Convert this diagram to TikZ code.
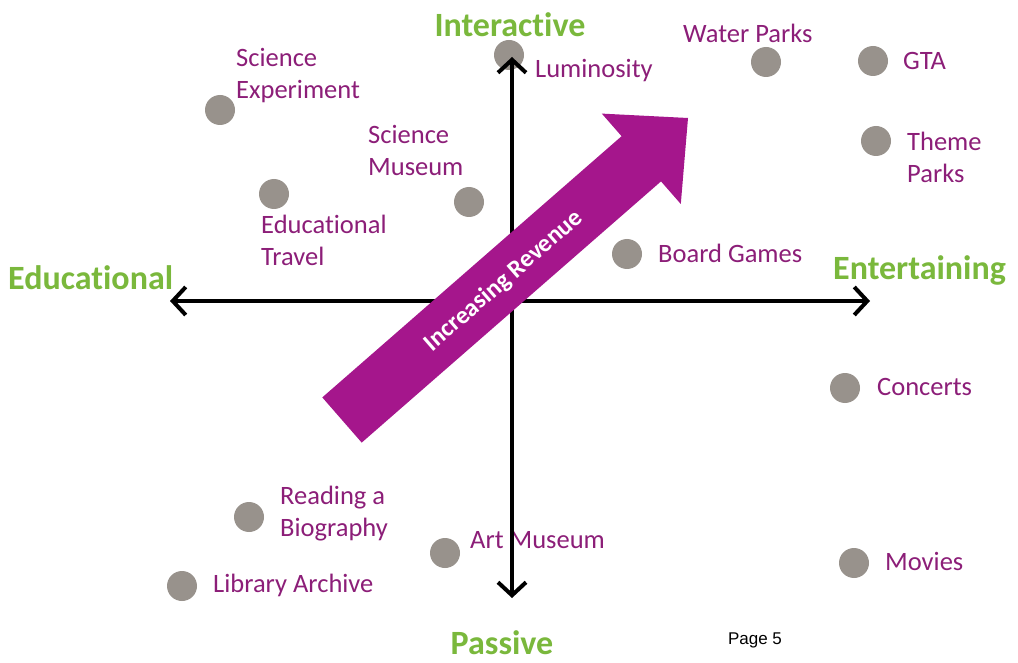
\documentclass[tikz,border=0pt]{standalone}
\usepackage{fontspec}
\setmainfont{Carlito}[Ligatures=NoCommon]
\newfontfamily\arialf{Liberation Sans}
\usetikzlibrary{arrows.meta}
\definecolor{lab}{RGB}{140,30,120}
\definecolor{grn}{RGB}{122,184,60}
\definecolor{dotc}{RGB}{152,146,140}
\definecolor{revc}{RGB}{165,22,140}
\begin{document}
\begin{tikzpicture}[x=1pt,y=-1pt,
  dot/.style={circle,fill=dotc,minimum size=30pt,inner sep=0pt},
  lbl/.style={text=lab,font=\fontsize{26.5}{32}\selectfont,align=left,inner sep=0pt,anchor=west},
  axl/.style={text=grn,font=\fontsize{34}{38}\selectfont\bfseries,inner sep=0pt},
  axisline/.style={line width=4pt,{Straight Barb[length=13pt,width=28pt]}-{Straight Barb[length=13pt,width=28pt]}},
  revarrow/.style={fill=revc,draw=none},
  revtext/.style={text=white,font=\fontsize{25}{28}\selectfont\bfseries,inner sep=0pt,rotate=41.1}]
\useasboundingbox[fill=white] (0,0) rectangle (1018,663);

% dots
\node[dot] (dlum) at (509,55) {};
\node[dot] (dwat) at (766,62) {};
\node[dot] (dgta) at (873,61) {};
\node[dot] (dthe) at (876,141) {};
\node[dot] (dsci) at (220,110) {};
\node[dot] (dsmu) at (469,202) {};
\node[dot] (dedu) at (274,194) {};
\node[dot] (dboa) at (627,254) {};
\node[dot] (dcon) at (845,388) {};
\node[dot] (drea) at (249,517) {};
\node[dot] (dart) at (445,553) {};
\node[dot] (dlib) at (182,586) {};
\node[dot] (dmov) at (854,563) {};

% labels
\node[lbl] (llum) at (535,71) {Luminosity};
\node[lbl] (lwat) at (683,33) {Water Parks};
\node[lbl] (lgta) at (903,61) {GTA};
\node[lbl] (lthe) at (907,157) {Theme\\Parks};
\node[lbl] (lsci) at (236,76) {Science\\Experiment};
\node[lbl] (lsmu) at (368,150) {Science\\Museum};
\node[lbl] (ledu) at (261,240) {Educational\\Travel};
\node[lbl] (lboa) at (658,253) {Board Games};
\node[lbl] (lcon) at (877,387) {Concerts};
\node[lbl] (lrea) at (280,514) {Reading a\\Biography};
\node[lbl] (lart) at (470,540) {Art Museum};
\node[lbl] (llib) at (213,585) {Library Archive};
\node[lbl] (lmov) at (885,561) {Movies};

% axis labels
\node[axl] (ainter) at (510,25) {Interactive};
\node[axl] (apass) at (502,643) {Passive};
\node[axl,anchor=west] (aedu) at (8,278) {Educational};
\node[axl,anchor=west] (aent) at (833,270) {Entertaining};
\node[font=\arialf\fontsize{17}{19}\selectfont,inner sep=0pt] (page) at (755,640) {Page 5};

% axes
\coordinate (axL) at (170,301);
\coordinate (axR) at (870,301);
\coordinate (axT) at (512,57);
\coordinate (axB) at (512,598);
\draw[axisline] (axL) -- (axR);
\draw[axisline] (axB) -- (axT);

% revenue arrow
\path[revarrow] (322.3,397.4) -- (621.6,136.2) -- (601.8,113.6) -- (688,118)
  -- (680.8,204) -- (661,181.4) -- (361.7,442.6) -- cycle;
\node[revtext] (rev) at (504,281) {Increasing Revenue};
\end{tikzpicture}
\end{document}
